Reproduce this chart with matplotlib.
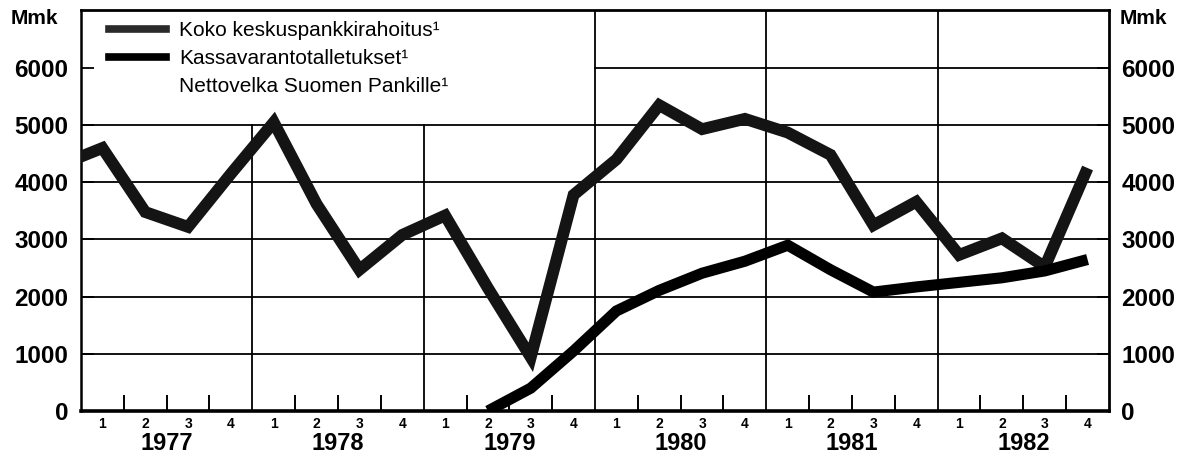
import numpy as np
import matplotlib
matplotlib.use("Agg")
import matplotlib.pyplot as plt
from matplotlib.lines import Line2D
from matplotlib.transforms import blended_transform_factory

plt.rcParams['font.family'] = ['Liberation Sans', 'DejaVu Sans']

# quarterly data 1977Q1 .. 1982Q4 (Mmk); index -1 is 1976Q4 lead-in
years = ['1977', '1978', '1979', '1980', '1981', '1982']
quarter_labels = ['1', '2', '3', '4']
koko_1976q4 = 4300
koko = [4600, 3480, 3220, 4150,
        5050, 3620, 2470, 3080,
        3420, 2150, 940, 3780,
        4400, 5350, 4930, 5110,
        4870, 4480, 3250, 3660,
        2730, 3020, 2520, 4250]
kassa = [np.nan, np.nan, np.nan, np.nan,
         np.nan, np.nan, np.nan, np.nan,
         np.nan, 0, 400, 1050,
         1750, 2110, 2410, 2620,
         2900, 2470, 2080, 2170,
         2250, 2330, 2450, 2650]
legend_labels = ['Koko keskuspankkirahoitus¹', 'Kassavarantotalletukset¹',
                 'Nettovelka Suomen Pankille¹']

W, H = 1193, 457
fig = plt.figure(figsize=(W / 100, H / 100), dpi=100)
ax_w = 1028
ax = fig.add_axes([81 / W, 46 / H, ax_w / W, 401 / H])

n = len(koko)
x = np.arange(n)
ymax = 7014
ax.set_xlim(-0.5, n - 0.5)
ax.set_ylim(0, ymax)

# grid: horizontal lines, 6000 only from 1980 onwards
for v in range(1000, 6000, 1000):
    ax.axhline(v, color='black', lw=1.3, zorder=1)
ax.axhline(6000, xmin=12 / n, xmax=1, color='black', lw=1.3, zorder=1)
# year boundaries; first two stop at 5000 (legend area)
for i in range(1, len(years)):
    top = 5000 / ymax if i <= 2 else 1
    ax.axvline(4 * i - 0.5, ymin=0, ymax=top, color='black', lw=1.3, zorder=1)

ax.plot(np.r_[-1, x], np.r_[koko_1976q4, koko], color='#141414', lw=8.5,
        solid_joinstyle='miter', solid_capstyle='butt', zorder=3)
ax.plot(x, kassa, color='black', lw=8.0,
        solid_joinstyle='miter', solid_capstyle='butt', zorder=3)

for s in ['top', 'right']:
    ax.spines[s].set_linewidth(2.0)
ax.spines['left'].set_linewidth(1.8)
ax.spines['bottom'].set_linewidth(2.6)

# y axis labels on both sides
yt = np.arange(0, 7000, 1000)
ax.set_yticks(yt)
ax.set_yticklabels([str(v) for v in yt])
ax.tick_params(axis='y', direction='in', length=9, width=1.3, left=True, right=True,
               labelleft=True, labelright=True, pad=9, labelsize=17.5)
for lab in ax.get_yticklabels():
    lab.set_fontweight('bold')

# x axis: quarter numbers centred, small ticks between quarters
ax.set_xticks(x)
ax.set_xticklabels(quarter_labels * len(years), fontsize=10, fontweight='bold')
ax.tick_params(axis='x', which='major', length=0, pad=4)
minor = [4 * y + q + 0.5 for y in range(len(years)) for q in range(3)]
ax.set_xticks(minor, minor=True)
ax.tick_params(axis='x', which='minor', direction='in', length=11.5, width=1.4)

trans = blended_transform_factory(ax.transData, ax.transAxes)
for i, yr in enumerate(years):
    ax.text(4 * i + 1.5, -0.08, yr, transform=trans, ha='center', va='center',
            fontsize=17, fontweight='bold')

fig.text(58 / W, 1 - 19 / H, 'Mmk', ha='right', va='center', fontsize=15, fontweight='bold')
fig.text(1120 / W, 1 - 19 / H, 'Mmk', ha='left', va='center', fontsize=15, fontweight='bold')

handles = [Line2D([], [], color='#2a2a2a', lw=5.5),
           Line2D([], [], color='black', lw=5.5),
           Line2D([], [], color='none', lw=5.5)]
ax.legend(handles, legend_labels, loc='upper left', bbox_to_anchor=(20 / ax_w, 0.993),
          frameon=False, fontsize=15, handlelength=2.74, handletextpad=0.62,
          labelspacing=0.44, borderaxespad=0.0)

fig.savefig('out.png', dpi=100)
